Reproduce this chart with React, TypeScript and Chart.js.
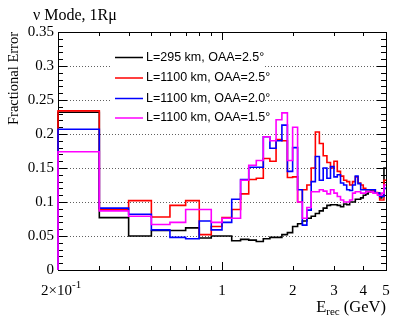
import React, { useEffect, useRef } from 'react';
import { Chart, registerables } from 'chart.js';
Chart.register(...registerables);

// Bin edges of the reconstructed-energy histogram (GeV)
const binEdges = [
  0.2, 0.3, 0.4, 0.5, 0.6, 0.7, 0.8, 0.9, 1.0, 1.1, 1.2, 1.3, 1.4, 1.5, 1.6, 1.7,
  1.8, 1.9, 2.0, 2.1, 2.2, 2.3, 2.4, 2.5, 2.6, 2.7, 2.8, 2.9, 3.0, 3.1, 3.2, 3.3,
  3.4, 3.5, 3.6, 3.7, 3.8, 3.9, 4.0, 4.1, 4.2, 4.3, 4.4, 4.5, 4.6, 4.7, 4.8, 4.9, 5.0,
];

// Fractional error per bin
const errL295OAA25 = [
  0.232, 0.077, 0.050, 0.058, 0.058, 0.062, 0.047, 0.050, 0.050, 0.043, 0.045, 0.044,
  0.042, 0.046, 0.048, 0.048, 0.052, 0.055, 0.064, 0.068, 0.072, 0.076, 0.079, 0.083,
  0.087, 0.091, 0.095, 0.096, 0.096, 0.095, 0.093, 0.097, 0.096, 0.100, 0.100, 0.104,
  0.104, 0.106, 0.110, 0.112, 0.115, 0.118, 0.118, 0.113, 0.113, 0.106, 0.108, 0.150,
];
const errL1100OAA25 = [
  0.234, 0.089, 0.102, 0.078, 0.095, 0.102, 0.052, 0.064, 0.077, 0.089, 0.112, 0.133,
  0.135, 0.164, 0.160, 0.192, 0.190, 0.136, 0.137, 0.100, 0.118, 0.125, 0.150, 0.203,
  0.186, 0.168, 0.158, 0.150, 0.160, 0.145, 0.138, 0.132, 0.130, 0.125, 0.130, 0.137,
  0.128, 0.125, 0.120, 0.118, 0.118, 0.115, 0.118, 0.114, 0.112, 0.103, 0.103, 0.132,
];
const errL1100OAA20 = [
  0.207, 0.091, 0.082, 0.059, 0.048, 0.046, 0.072, 0.059, 0.070, 0.104, 0.133, 0.151,
  0.151, 0.196, 0.179, 0.190, 0.213, 0.145, 0.180, 0.118, 0.066, 0.088, 0.130, 0.167,
  0.132, 0.150, 0.135, 0.152, 0.137, 0.140, 0.128, 0.125, 0.118, 0.117, 0.125, 0.138,
  0.127, 0.118, 0.118, 0.118, 0.118, 0.118, 0.118, 0.113, 0.113, 0.108, 0.108, 0.120,
];
const errL1100OAA15 = [
  0.174, 0.087, 0.079, 0.067, 0.070, 0.089, 0.089, 0.070, 0.076, 0.076, 0.132, 0.154,
  0.161, 0.196, 0.190, 0.221, 0.231, 0.161, 0.210, 0.100, 0.076, 0.092, 0.115, 0.115,
  0.118, 0.116, 0.112, 0.118, 0.113, 0.108, 0.103, 0.100, 0.100, 0.103, 0.113, 0.115,
  0.115, 0.113, 0.113, 0.115, 0.115, 0.115, 0.113, 0.113, 0.110, 0.110, 0.113, 0.125,
];

const seriesLabels = [
  'L=295 km, OAA=2.5°',
  'L=1100 km, OAA=2.5°',
  'L=1100 km, OAA=2.0°',
  'L=1100 km, OAA=1.5°',
];
const seriesColors = ['#000000', '#ff0000', '#0000ff', '#ff00ff'];
const seriesValues = [errL295OAA25, errL1100OAA25, errL1100OAA20, errL1100OAA15];

const yTickValues = [0, 0.05, 0.1, 0.15, 0.2, 0.25, 0.3, 0.35];
const yTickLabels = ['0', '0.05', '0.1', '0.15', '0.2', '0.25', '0.3', '0.35'];
const yMinorStep = 0.01;
const xTickValues = [0.3, 0.4, 0.5, 0.6, 0.7, 0.8, 0.9, 1, 2, 3, 4];
const xMajorTicks = [1];
const xLabelValues = [1, 2, 3, 4, 5];
const xLabelTexts = ['1', '2', '3', '4', '5'];

const SERIF = '"Liberation Serif", "Times New Roman", serif';
const SANS = '"Liberation Sans", Arial, sans-serif';

function toSteps(values: number[]) {
  const pts: { x: number; y: number }[] = [{ x: binEdges[0], y: 0 }];
  values.forEach((v, i) => pts.push({ x: binEdges[i], y: v }));
  pts.push({ x: binEdges[binEdges.length - 1], y: values[values.length - 1] });
  return pts;
}

const decorPlugin = {
  id: 'rootDecor',
  beforeDatasetsDraw(chart: any) {
    const { ctx, chartArea } = chart;
    const { left, right, top, bottom } = chartArea;
    const xs = chart.scales.x;
    const ys = chart.scales.y;
    ctx.save();
    // dotted grid
    ctx.strokeStyle = '#606060';
    ctx.lineWidth = 1;
    ctx.setLineDash([1, 2]);
    yTickValues.forEach((v) => {
      if (v <= 0 || v >= 0.35) return;
      const y = Math.round(ys.getPixelForValue(v)) + 0.5;
      ctx.beginPath();
      ctx.moveTo(left, y);
      ctx.lineTo(right, y);
      ctx.stroke();
    });
    ctx.setLineDash([]);
    // legend background
    ctx.fillStyle = '#ffffff';
    ctx.fillRect(110, 47, 153, 81);
    // frame
    ctx.strokeStyle = '#000';
    ctx.strokeRect(Math.round(left) + 0.5, Math.round(top) + 0.5, Math.round(right - left), Math.round(bottom - top));
    // y ticks
    const nMinor = Math.round(0.35 / yMinorStep);
    for (let i = 0; i <= nMinor; i++) {
      const v = i * yMinorStep;
      const y = Math.round(ys.getPixelForValue(v)) + 0.5;
      const major = i % 5 === 0;
      const len = major ? 9 : 5;
      ctx.beginPath();
      ctx.moveTo(left, y);
      ctx.lineTo(left + len, y);
      ctx.moveTo(right, y);
      ctx.lineTo(right - len, y);
      ctx.stroke();
    }
    // x ticks
    xTickValues.forEach((v) => {
      const x = Math.round(xs.getPixelForValue(v)) + 0.5;
      const len = xMajorTicks.includes(v) ? 8 : 4;
      ctx.beginPath();
      ctx.moveTo(x, bottom);
      ctx.lineTo(x, bottom - len);
      ctx.moveTo(x, top);
      ctx.lineTo(x, top + len);
      ctx.stroke();
    });
    ctx.restore();
  },
  afterDatasetsDraw(chart: any) {
    const { ctx, chartArea } = chart;
    const { left, right, top, bottom } = chartArea;
    const xs = chart.scales.x;
    const ys = chart.scales.y;
    ctx.save();
    ctx.fillStyle = '#000';
    // y tick labels
    ctx.font = '15px ' + SERIF;
    ctx.textAlign = 'right';
    ctx.textBaseline = 'middle';
    yTickValues.forEach((v, i) => {
      ctx.fillText(yTickLabels[i], left - 4, ys.getPixelForValue(v));
    });
    // x tick labels
    ctx.textAlign = 'center';
    ctx.textBaseline = 'alphabetic';
    xLabelValues.forEach((v, i) => {
      ctx.fillText(xLabelTexts[i], xs.getPixelForValue(v), bottom + 25);
    });
    // 2x10^-1 label at axis start
    const x0 = xs.getPixelForValue(binEdges[0]);
    ctx.textAlign = 'right';
    ctx.fillText('2\u00d710', x0 + 14, bottom + 25);
    ctx.textAlign = 'left';
    ctx.font = '11px ' + SERIF;
    ctx.fillText('-1', x0 + 14, bottom + 18);
    // x title
    ctx.font = '16.5px ' + SERIF;
    ctx.textAlign = 'right';
    const gev = ' (GeV)';
    ctx.fillText(gev, right, bottom + 42);
    const gw = ctx.measureText(gev).width;
    ctx.font = '11px ' + SERIF;
    ctx.fillText('rec', right - gw, bottom + 45);
    const rw = ctx.measureText('rec').width;
    ctx.font = '16.5px ' + SERIF;
    ctx.fillText('E', right - gw - rw, bottom + 42);
    // title
    ctx.textAlign = 'left';
    ctx.font = '16px ' + SERIF;
    ctx.fillText('\u03bd Mode, 1R\u03bc', 33, 20);
    // y title
    ctx.save();
    ctx.translate(18, top);
    ctx.rotate(-Math.PI / 2);
    ctx.textAlign = 'right';
    ctx.font = '14.5px ' + SERIF;
    ctx.fillText('Fractional Error', 0, 0);
    ctx.restore();
    // legend
    const rows = [57.5, 78, 98.5, 118];
    ctx.font = '12.5px ' + SANS;
    ctx.textBaseline = 'middle';
    ctx.textAlign = 'left';
    seriesLabels.forEach((lab, i) => {
      const y = rows[i];
      ctx.strokeStyle = seriesColors[i];
      ctx.lineWidth = 1.5;
      ctx.beginPath();
      ctx.moveTo(115, y);
      ctx.lineTo(143, y);
      ctx.stroke();
      ctx.fillStyle = '#000';
      ctx.fillText(lab, 146, y);
    });
    ctx.restore();
  },
};

export default function App() {
  const ref = useRef<HTMLCanvasElement | null>(null);
  useEffect(() => {
    if (!ref.current) return;
    const datasets = seriesValues.map((vals, i) => ({
      label: seriesLabels[i],
      data: toSteps(vals),
      borderColor: seriesColors[i],
      backgroundColor: seriesColors[i],
      borderWidth: 1.6,
      pointRadius: 0,
      stepped: 'before' as const,
      fill: false,
      clip: false as any,
      order: 3 - i,
    }));
    const chart = new Chart(ref.current, {
      type: 'line',
      data: { datasets },
      options: {
        animation: false,
        responsive: false,
        maintainAspectRatio: false,
        devicePixelRatio: 1,
        layout: { padding: { left: 58, top: 32, right: 21, bottom: 52 } },
        plugins: { legend: { display: false }, tooltip: { enabled: false }, title: { display: false } },
        scales: {
          x: { type: 'logarithmic', min: 0.2, max: 5, display: false },
          y: { type: 'linear', min: 0, max: 0.35, display: false },
        },
      },
      plugins: [decorPlugin],
    });
    return () => chart.destroy();
  }, []);
  return (
    <div style={{ position: 'fixed', left: 0, top: 0, width: 407, height: 322, background: '#fff' }}>
      <canvas ref={ref} width={407} height={322} style={{ width: 407, height: 322 }} />
    </div>
  );
}
